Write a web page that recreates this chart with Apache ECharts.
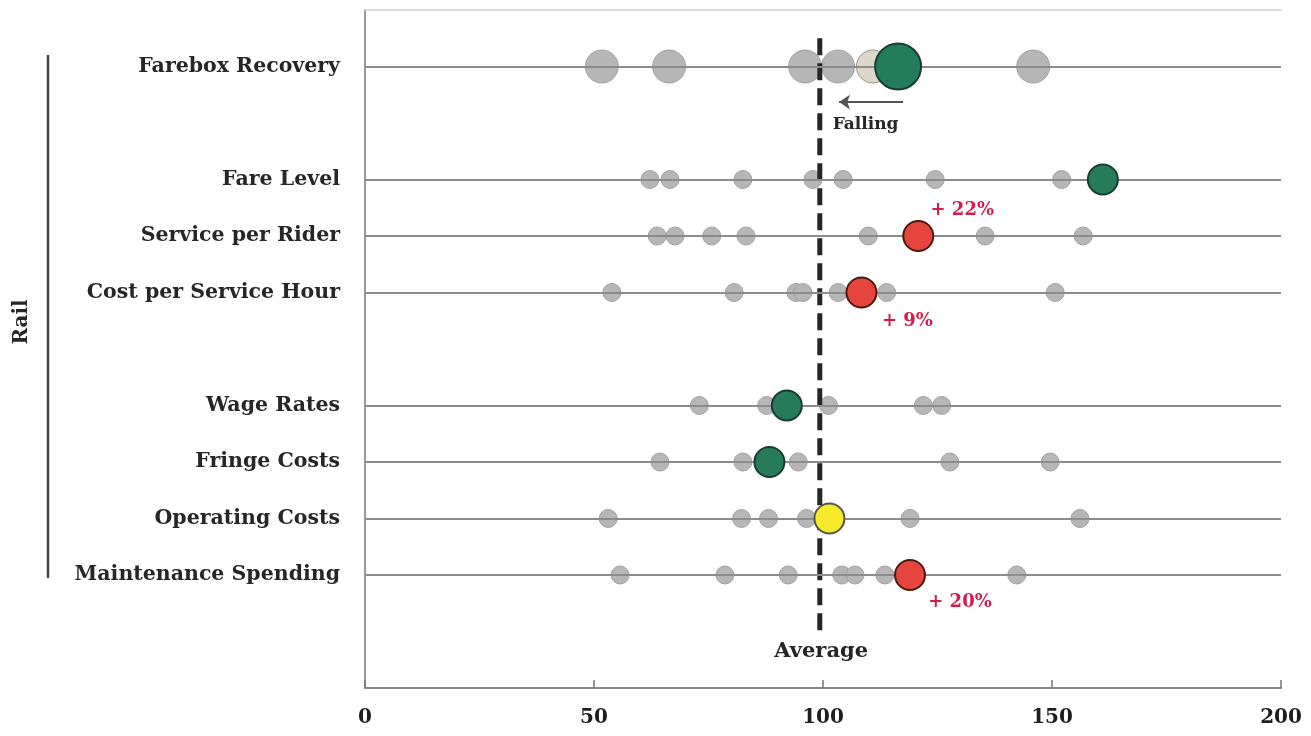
<!DOCTYPE html>
<html>
<head>
<meta charset="utf-8">
<script src="https://cdn.jsdelivr.net/npm/echarts@6/dist/echarts.min.js"></script>
<style>html,body{margin:0;padding:0;background:#fff;}#c{width:1311px;height:736px;}</style>
</head>
<body>
<div id="c"></div>
<script>
// ---- data ----
const categories = ['', 'Farebox Recovery', '', 'Fare Level', 'Service per Rider', 'Cost per Service Hour', '',
  'Wage Rates', 'Fringe Costs', 'Operating Costs', 'Maintenance Spending', '', ''];
const rows = ['Farebox Recovery', 'Fare Level', 'Service per Rider', 'Cost per Service Hour',
  'Wage Rates', 'Fringe Costs', 'Operating Costs', 'Maintenance Spending'];
const peerValues = [
  [51.7, 66.4, 96.1, 103.3, 110.9, 145.9],
  [62.2, 66.6, 82.5, 97.8, 104.4, 124.5, 152.1],
  [63.8, 67.7, 75.7, 83.2, 109.9, 135.4, 156.8],
  [53.9, 80.6, 94.1, 95.6, 103.3, 113.9, 150.7],
  [73.0, 87.7, 101.2, 121.9, 125.9],
  [64.4, 82.5, 94.6, 127.7, 149.6],
  [53.1, 82.2, 88.1, 96.4, 119.0, 156.1],
  [55.7, 78.6, 92.4, 104.1, 107.0, 113.5, 142.3]
];
const highlightValues = [116.4, 161.1, 120.8, 108.4, 92.1, 88.3, 101.4, 119.0];
const changeLabels = ['', '', '+ 22%', '+ 9%', '', '', '', '+ 20%'];
const averageValue = 99.3;
const xTicks = [0, 50, 100, 150, 200];

// ---- style ----
const hiColors = ['#237d5c', '#267c5a', '#e6453d', '#e6453d', '#267c5a', '#267c5a', '#f6ea2a', '#e6453d'];
const hiBorders = ['#1a3c32', '#1b3a30', '#4a1a12', '#4a1a12', '#1b3a30', '#1b3a30', '#555', '#4a1a12'];
const labelOffsets = {2: [44, -26], 3: [46, 29], 7: [50, 27]};
const serif = '"DejaVu Serif", "Liberation Serif", serif';

const peerData = [];
rows.forEach((r, i) => peerValues[i].forEach((v, j) => {
  const item = {value: [v, r]};
  if (i === 0 && j === 4) item.itemStyle = {color: '#dcd8c8', borderColor: '#9a957e'};
  peerData.push(item);
}));

const hiData = highlightValues.map((v, i) => ({
  value: [v, rows[i]],
  itemStyle: {color: hiColors[i], borderColor: hiBorders[i], borderWidth: 2, opacity: 1},
  label: changeLabels[i] ? {show: true, formatter: changeLabels[i], offset: labelOffsets[i], position: 'inside',
    color: '#d41c4c', fontSize: 18, fontWeight: 'bold', fontFamily: serif, textBorderWidth: 0} : {show: false}
}));

const chart = echarts.init(document.getElementById('c'), null, {renderer: 'canvas'});
chart.setOption({
  animation: false,
  backgroundColor: '#fff',
  grid: {left: 365, right: 30, top: 10, bottom: 48},
  xAxis: [{
    type: 'value', min: xTicks[0], max: xTicks[xTicks.length - 1], interval: 50, position: 'bottom',
    axisLine: {show: true, onZero: false, lineStyle: {color: '#8a8a8a', width: 2}},
    axisTick: {show: true, inside: true, length: 8, lineStyle: {color: '#777', width: 1.5}},
    splitLine: {show: false},
    axisLabel: {color: '#1e1e1e', fontSize: 20, fontWeight: 'bold', fontFamily: serif, margin: 20}
  }, {
    type: 'value', min: 0, max: 200, position: 'top',
    axisLine: {show: true, onZero: false, lineStyle: {color: '#d0d0d0', width: 1.5}},
    axisTick: {show: false}, axisLabel: {show: false}, splitLine: {show: false}
  }],
  yAxis: [{
    type: 'category', data: categories, inverse: true, boundaryGap: false,
    axisLine: {show: true, onZero: false, lineStyle: {color: '#777', width: 1.5}},
    axisTick: {show: false}, splitLine: {show: false},
    axisLabel: {color: '#262626', fontSize: 20.5, fontWeight: 'bold', fontFamily: serif, margin: 25, interval: 0}
  }, {
    type: 'value', min: 0, max: 12, inverse: true, show: false
  }],
  graphic: [
    {type: 'line', shape: {x1: 48, y1: 55, x2: 48, y2: 578}, style: {stroke: '#444', lineWidth: 2.5}},
    {type: 'text', x: 22, y: 322, rotation: Math.PI / 2,
      style: {text: 'Rail', font: 'bold 20px ' + serif, fill: '#262626', textAlign: 'center', textVerticalAlign: 'middle'}}
  ],
  series: [
    {
      type: 'line', data: [], yAxisIndex: 0, z: 1, silent: true,
      markLine: {silent: true, symbol: 'none', label: {show: false},
        lineStyle: {color: '#8c8c8c', width: 2, type: 'solid'},
        data: rows.map(r => ({yAxis: categories.indexOf(r)}))}
    },
    {
      type: 'scatter', yAxisIndex: 0, z: 3, data: peerData,
      symbolSize: (v) => v[1] === 'Farebox Recovery' ? 33 : 18,
      itemStyle: {color: '#b6b6b6', borderColor: '#a2a2a2', borderWidth: 1, opacity: 1}
    },
    {
      type: 'line', yAxisIndex: 1, z: 4, symbol: 'none',
      data: [[averageValue, 0.5], [averageValue, 11.1]],
      lineStyle: {color: '#262626', width: 5, type: [17, 8]}
    },
    {
      type: 'scatter', yAxisIndex: 0, z: 5, data: hiData,
      itemStyle: {opacity: 1},
      symbolSize: (v) => v[1] === 'Farebox Recovery' ? 46 : 30
    },
    {
      type: 'scatter', yAxisIndex: 1, z: 6, symbolSize: 0,
      itemStyle: {opacity: 1},
      data: [
        {name: 'Falling', value: [109.3, 2.02], label: {fontSize: 17}},
        {name: 'Average', value: [99.6, 11.36], label: {fontSize: 21}}
      ],
      label: {show: true, position: 'inside', formatter: '{b}', color: '#262626', fontWeight: 'bold',
        fontFamily: serif, textBorderWidth: 0},
      markLine: {silent: true, symbol: ['none', 'arrow'], symbolSize: 11, label: {show: false},
        lineStyle: {color: '#555', width: 2, type: 'solid'},
        data: [[{coord: [117.5, 1.63]}, {coord: [103.5, 1.63]}]]}
    }
  ]
});
</script>
</body>
</html>
